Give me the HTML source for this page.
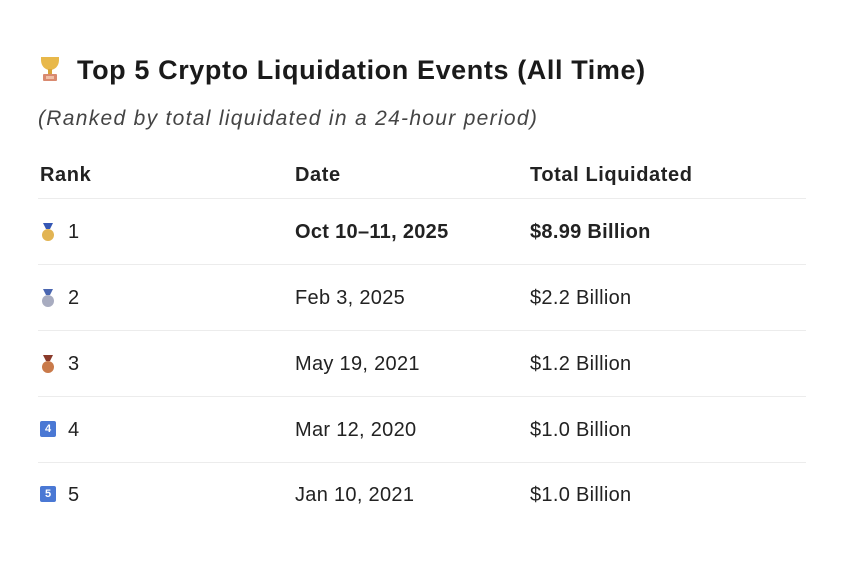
<!DOCTYPE html>
<html><head><meta charset="utf-8"><style>
body{margin:0;width:850px;height:580px;background:#fff;position:relative;font-family:"Liberation Sans","DejaVu Sans",sans-serif;color:#222;overflow:hidden}
.t{position:absolute;white-space:nowrap;line-height:1}
.hr{position:absolute;left:38px;width:768px;height:1px;background:#ececec}
.med{position:absolute;width:12px;height:19px}
.med .r{position:absolute;left:1px;top:0;width:10px;height:6px;background:#3557b5;clip-path:polygon(0 0,100% 0,70% 100%,30% 100%)}
.med .c{position:absolute;left:0;top:6px;width:12px;height:12px;border-radius:50%}
.sq{position:absolute;width:16px;height:16px;background:#4a78d4;border-radius:2px;color:#fff;font-size:11px;font-weight:bold;text-align:center;line-height:16px}
.row{font-size:20px;letter-spacing:0.3px}
.h{font-size:20px;font-weight:bold;letter-spacing:0.6px}
</style></head><body>
<svg class="t" style="left:38px;top:55px" width="24" height="28" viewBox="0 0 24 28">
<path d="M3 2h18v3c0 6-4 10-9 10S3 11 3 5z" fill="#e8b84a"/>
<rect x="10" y="14" width="4" height="5" fill="#d8a43a"/>
<rect x="5" y="19" width="14" height="7" rx="1" fill="#d98a70"/>
<rect x="8" y="21" width="8" height="3" fill="#f0c0a8"/>
</svg>
<div class="t" style="left:77px;top:57px;font-size:27px;font-weight:bold;color:#1a1a1a;letter-spacing:0.6px">Top 5 Crypto Liquidation Events (All Time)</div>
<div class="t" style="left:38px;top:108px;font-size:21px;font-style:italic;color:#444;letter-spacing:1.3px">(Ranked by total liquidated in a 24-hour period)</div>
<div class="t h" style="left:40px;top:165px">Rank</div>
<div class="t h" style="left:295px;top:165px">Date</div>
<div class="t h" style="left:530px;top:165px">Total Liquidated</div>
<div class="hr" style="top:198px"></div>
<div class="hr" style="top:264px"></div>
<div class="hr" style="top:330px"></div>
<div class="hr" style="top:396px"></div>
<div class="hr" style="top:462px"></div>

<div class="med" style="left:42px;top:223px"><div class="r"></div><div class="c" style="background:#e2b453"></div></div>
<div class="med" style="left:42px;top:289px"><div class="r" style="background:#4a66b0"></div><div class="c" style="background:#a8acc0"></div></div>
<div class="med" style="left:42px;top:355px"><div class="r" style="background:#8a3a2a"></div><div class="c" style="background:#c97a4a"></div></div>
<div class="sq" style="left:40px;top:421px">4</div>
<div class="sq" style="left:40px;top:486px">5</div>

<div class="t row" style="left:68px;top:222px">1</div>
<div class="t row" style="left:68px;top:288px">2</div>
<div class="t row" style="left:68px;top:354px">3</div>
<div class="t row" style="left:68px;top:420px">4</div>
<div class="t row" style="left:68px;top:485px">5</div>

<div class="t row" style="left:295px;top:222px;font-weight:600">Oct 10–11, 2025</div>
<div class="t row" style="left:295px;top:288px">Feb 3, 2025</div>
<div class="t row" style="left:295px;top:354px">May 19, 2021</div>
<div class="t row" style="left:295px;top:420px">Mar 12, 2020</div>
<div class="t row" style="left:295px;top:485px">Jan 10, 2021</div>

<div class="t row" style="left:530px;top:222px;font-weight:600">$8.99 Billion</div>
<div class="t row" style="left:530px;top:288px">$2.2 Billion</div>
<div class="t row" style="left:530px;top:354px">$1.2 Billion</div>
<div class="t row" style="left:530px;top:420px">$1.0 Billion</div>
<div class="t row" style="left:530px;top:485px">$1.0 Billion</div>
</body></html>
